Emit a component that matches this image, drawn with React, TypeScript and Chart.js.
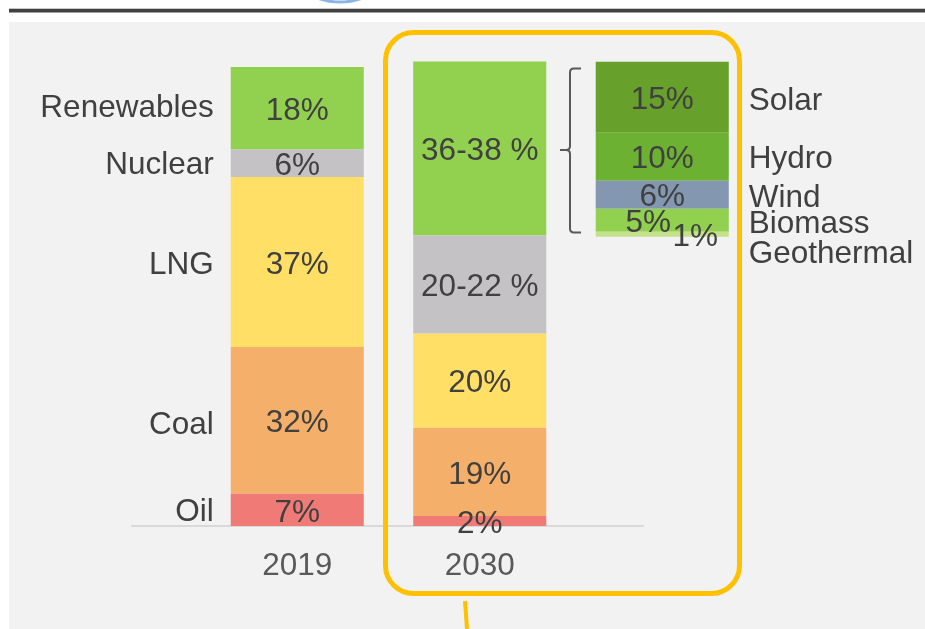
import React, { useEffect, useRef } from "react";
import { Chart, registerables } from "chart.js";

Chart.register(...registerables);

// ---------- data ----------
const years = ["2019", "2030", ""];
const sources = ["Oil", "Coal", "LNG", "Nuclear", "Renewables"];
const mix2019 = [7, 32, 37, 6, 18];
const mix2030 = [2.2, 19.2, 20.5, 21.4, 37.9];
const labels2019 = ["7%", "32%", "37%", "6%", "18%"];
const labels2030 = ["2%", "19%", "20%", "20-22 %", "36-38 %"];
const renewTypes = ["Geothermal", "Biomass", "Wind", "Hydro", "Solar"];
const renewShares = [1.1, 5.0, 6.1, 10.45, 15.5];
const renewLabels = ["1%", "5%", "6%", "10%", "15%"];
const renewBase = 63.0; // where the 2030 renewables breakdown starts

// ---------- styles ----------
const sourceColors = ["#F07B76", "#F4AF6B", "#FFDF66", "#C4C2C5", "#92D050"];
const renewColors = ["#C5E18B", "#92D050", "#8497B0", "#6CB132", "#67A02A"];
const FAMILY = '"Liberation Sans", Arial, sans-serif';
const FONT = `31.5px ${FAMILY}`;
const TEXT = "#404040";
const TEXT_DY = 3;
const valueShiftX: Record<string, number> = { Biomass: -14, Geothermal: 33 };
const nameShiftY: Record<string, number> = {
  Geothermal: 17, Solar: 1, Wind: 1, Biomass: 1, Coal: 2, Renewables: -3, Nuclear: -1, Oil: -1,
};

const decorPlugin = {
  id: "decor",
  beforeDraw(chart: any) {
    const ctx = chart.ctx as CanvasRenderingContext2D;
    ctx.save();
    ctx.fillStyle = "#ffffff";
    ctx.fillRect(0, 0, chart.width, chart.height);
    // top rules
    ctx.fillStyle = "#c8c8c8";
    ctx.fillRect(9, 8, chart.width - 9, 1);
    ctx.fillStyle = "#404040";
    ctx.fillRect(9, 9, chart.width - 9, 3.5);
    // partial blue circle at top
    ctx.strokeStyle = "#8DB4E2";
    ctx.lineWidth = 3;
    ctx.beginPath();
    ctx.arc(340, -60, 62, 0, Math.PI);
    ctx.stroke();
    // panel
    ctx.fillStyle = "#F2F2F2";
    ctx.fillRect(9, 22, chart.width - 9, chart.height - 22);
    // baseline
    const xs = chart.scales.x;
    const ys = chart.scales.y;
    const y0 = ys.getPixelForValue(0);
    ctx.fillStyle = "#D9D9D9";
    ctx.fillRect(xs.getPixelForValue(0) - 166, y0 - 1, xs.getPixelForValue(1) - xs.getPixelForValue(0) + 330, 2);
    // orange rounded frame
    ctx.strokeStyle = "#FFC000";
    ctx.lineWidth = 5;
    ctx.beginPath();
    (ctx as any).roundRect(385.5, 32.5, 354, 561, 28);
    ctx.stroke();
    ctx.lineWidth = 4;
    ctx.beginPath();
    ctx.moveTo(465, 601);
    ctx.lineTo(467, 629);
    ctx.stroke();
    // brace
    ctx.strokeStyle = "#595959";
    ctx.lineWidth = 2;
    ctx.beginPath();
    ctx.moveTo(581, 68.5);
    ctx.lineTo(574, 68.5);
    ctx.quadraticCurveTo(570, 68.5, 570, 72.5);
    ctx.lineTo(570, 146);
    ctx.quadraticCurveTo(570, 150, 566, 150);
    ctx.lineTo(560, 150);
    ctx.moveTo(566, 150);
    ctx.quadraticCurveTo(570, 150, 570, 154);
    ctx.lineTo(570, 228.5);
    ctx.quadraticCurveTo(570, 232.5, 574, 232.5);
    ctx.lineTo(581, 232.5);
    ctx.stroke();
    ctx.restore();
  },
};

const labelPlugin = {
  id: "segLabels",
  afterDatasetsDraw(chart: any) {
    const ctx = chart.ctx as CanvasRenderingContext2D;
    ctx.save();
    ctx.font = FONT;
    ctx.fillStyle = TEXT;
    ctx.textBaseline = "middle";
    chart.data.datasets.forEach((ds: any, di: number) => {
      const meta = chart.getDatasetMeta(di);
      const vl: (string | null)[] | undefined = ds.valueLabels;
      if (!vl) return;
      meta.data.forEach((el: any, i: number) => {
        const t = vl[i];
        if (!t) return;
        const p = el.getProps(["x", "y", "base", "width"], true);
        const cy = (p.y + p.base) / 2 + TEXT_DY;
        ctx.textAlign = "center";
        ctx.fillText(t, p.x + (valueShiftX[ds.label] || 0), cy);
        if (ds.nameSide === "left" && i === 0) {
          ctx.textAlign = "right";
          ctx.fillText(ds.label, p.x - p.width / 2 - 17, cy + (nameShiftY[ds.label] || 0));
        }
        if (ds.nameSide === "right" && i === 2) {
          ctx.textAlign = "left";
          ctx.fillText(ds.label, p.x + p.width / 2 + 20, cy + (nameShiftY[ds.label] || 0));
        }
      });
    });
    ctx.restore();
  },
};

export default function App() {
  const ref = useRef<HTMLCanvasElement | null>(null);
  useEffect(() => {
    if (!ref.current) return;
    const datasets: any[] = [
      ...sources.map((s, i) => ({
        label: s,
        data: [mix2019[i], mix2030[i], null],
        backgroundColor: sourceColors[i],
        valueLabels: [labels2019[i], labels2030[i], null],
        nameSide: "left",
      })),
      {
        label: "base",
        data: [null, null, renewBase],
        backgroundColor: "rgba(0,0,0,0)",
      },
      ...renewTypes.map((r, i) => ({
        label: r,
        data: [null, null, renewShares[i]],
        backgroundColor: renewColors[i],
        valueLabels: [null, null, renewLabels[i]],
        nameSide: "right",
      })),
    ];
    const chart = new Chart(ref.current, {
      type: "bar",
      data: { labels: years, datasets },
      options: {
        animation: false,
        responsive: false,
        maintainAspectRatio: false,
        devicePixelRatio: 1,
        layout: { padding: { left: 206, right: 171.5, top: 21, bottom: 0 } },
        datasets: {
          bar: { categoryPercentage: 1, barPercentage: 0.729, borderWidth: 0 },
        } as any,
        plugins: { legend: { display: false }, tooltip: { enabled: false } },
        scales: {
          x: {
            stacked: true,
            grid: { display: false, drawTicks: false },
            border: { display: false },
            ticks: {
              color: "#595959",
              font: { family: FAMILY, size: 31.5 },
              padding: 21,
              maxRotation: 0,
              autoSkip: false,
            },
            afterFit: (s: any) => {
              s.height = 103;
            },
          },
          y: { stacked: true, display: false, min: 0, max: 110 },
        },
      },
      plugins: [decorPlugin, labelPlugin],
    });
    return () => chart.destroy();
  }, []);
  return (
    <div style={{ position: "absolute", left: 0, top: 0, width: 925, height: 629 }}>
      <canvas ref={ref} width={925} height={629} style={{ display: "block" }} />
    </div>
  );
}
